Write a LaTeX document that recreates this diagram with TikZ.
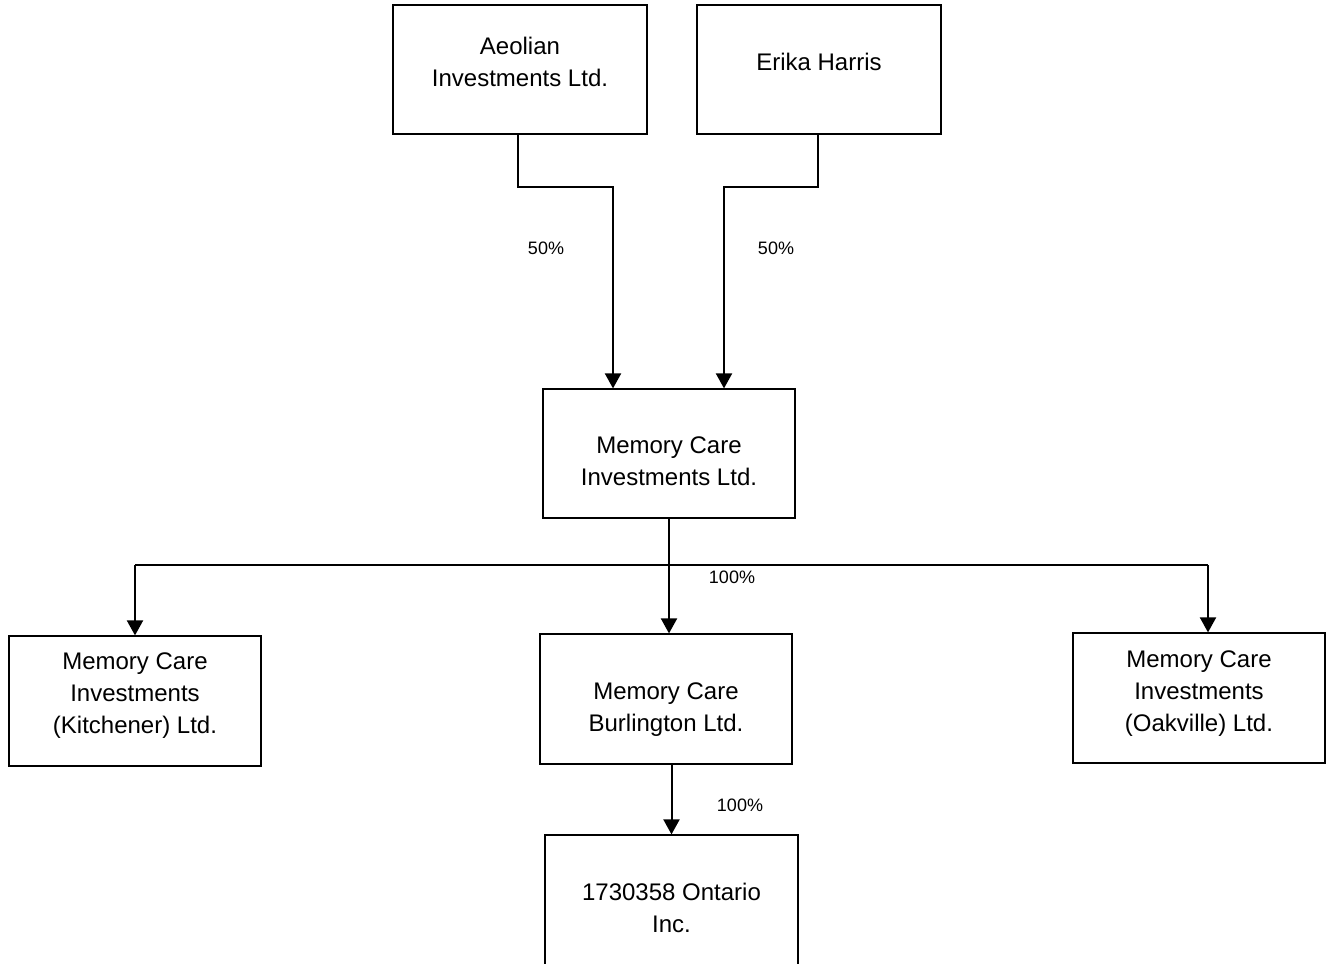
\documentclass[tikz,border=0pt]{standalone}
\usepackage{fontspec}
\setmainfont{Liberation Sans}
\usetikzlibrary{arrows.meta}
\tikzset{
  orgbox/.style={draw=black,line width=1.2pt,inner sep=0pt,fill=white},
  boxtext/.style={font=\fontsize{24}{32}\selectfont,align=center,inner sep=0pt},
  pct/.style={font=\fontsize{18}{22}\selectfont,inner sep=0pt},
  conn/.style={line width=2pt},
  arr/.style={conn,-{Triangle[width=16pt,length=15pt]}}
}
\begin{document}
\begin{tikzpicture}[x=1pt,y=-1pt]
\useasboundingbox (0,0) rectangle (1326,964);
\fill[white] (0,0) rectangle (1326,964);

\node[orgbox,minimum width=254pt,minimum height=129pt,
  label={[boxtext,yshift=7.5pt]center:Aeolian\\Investments Ltd.}] (aeo) at (520,69.5) {};
\node[orgbox,minimum width=244pt,minimum height=129pt,
  label={[boxtext,yshift=7.5pt]center:Erika Harris}] (eri) at (819,69.5) {};
\node[orgbox,minimum width=252pt,minimum height=129pt,
  label={[boxtext,yshift=-7.5pt]center:Memory Care\\Investments Ltd.}] (mci) at (669,453.5) {};
\node[orgbox,minimum width=252pt,minimum height=130pt,
  label={[boxtext,yshift=5pt]center:Memory Care\\Investments\\(Kitchener) Ltd.}] (kit) at (135,701) {};
\node[orgbox,minimum width=252pt,minimum height=130pt,
  label={[boxtext,yshift=-11pt]center:Memory Care\\Burlington Ltd.}] (bur) at (666,699) {};
\node[orgbox,minimum width=252pt,minimum height=130pt,
  label={[boxtext,yshift=4.5pt]center:Memory Care\\Investments\\(Oakville) Ltd.}] (oak) at (1199,698) {};
\node[orgbox,minimum width=253pt,minimum height=130pt,
  label={[boxtext,yshift=-8pt]center:1730358 Ontario\\Inc.}] (ont) at (671.5,900) {};

\draw[arr] ([xshift=-2pt]aeo.south) -- ++(0,52) -| ([xshift=-56pt]mci.north);
\draw[arr] ([xshift=-1pt]eri.south) -- ++(0,52) -| ([xshift=55pt]mci.north);

\coordinate (bus) at (669,565);
\coordinate (oakin) at ([xshift=9pt]oak.north);
\draw[conn] (mci.south) -- (bus);
\draw[conn] (kit.north |- bus) -- (oakin |- bus);
\draw[arr] (kit.north |- bus) -- (kit.north);
\draw[arr] (bus) -- (bus |- bur.north);
\draw[arr] (oakin |- bus) -- (oakin);
\draw[arr] (ont.north |- bur.south) -- (ont.north);

\node[pct] (p1) at (546,248) {50\%};
\node[pct] (p2) at (776,248) {50\%};
\node[pct] (p3) at (732,577) {100\%};
\node[pct] (p4) at (740,805) {100\%};
\end{tikzpicture}
\end{document}
